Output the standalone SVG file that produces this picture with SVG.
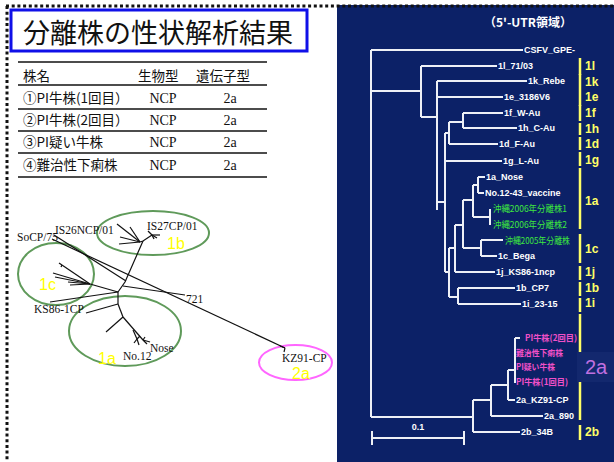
<svg xmlns="http://www.w3.org/2000/svg" width="614" height="462" viewBox="0 0 614 462">
<style>
.jp{font-family:"Noto Sans CJK JP","Liberation Sans",sans-serif;fill:#111}
.tm{font-family:"Liberation Serif",serif;fill:#111}
.tl{font-family:"Liberation Serif",serif;font-size:11.5px;fill:#111}
.cl{font-family:"Liberation Sans",sans-serif;font-size:16px;fill:#ffff00}
.ell{fill:none;stroke:#5f9a5a;stroke-width:2}
.br{stroke:#111;stroke-width:1.2;fill:none}
.wl{stroke:#eef0f6;stroke-width:2;fill:none}
.lb{font-family:"Liberation Sans",sans-serif;font-size:9px;font-weight:bold;fill:#fff}
.gr{font-family:"Noto Sans CJK JP",sans-serif;font-size:9px;fill:#3ee83e}
.pk{font-family:"Noto Sans CJK JP",sans-serif;font-size:8.5px;font-weight:bold;fill:#f050c8}
.yb{stroke:#ffff66;stroke-width:2.5}
.yl{font-family:"Liberation Sans",sans-serif;font-size:12px;font-weight:bold;fill:#ffff66}
</style>
<rect width="614" height="462" fill="#fff"/>
<!-- right navy panel -->
<rect x="337" y="5" width="277" height="457" fill="#0c2167"/>
<!-- dotted border -->
<g id="border" stroke="#111" stroke-width="3" stroke-dasharray="3 2.7" fill="none">
<line x1="6" y1="6" x2="614" y2="6"/>
<line x1="7" y1="6" x2="7" y2="462"/>
</g>
<!-- title -->
<g id="title">
<rect x="11" y="10" width="296" height="41" fill="#fff" stroke="#1010e8" stroke-width="3"/>
<text x="23" y="43" class="jp" font-size="27">分離株の性状解析結果</text>
</g>
<!-- table -->
<g id="table">
<g stroke="#111" stroke-width="1.3">
<line x1="18" y1="62" x2="267" y2="62"/>
<line x1="18" y1="85" x2="267" y2="85"/>
<line x1="18" y1="109" x2="267" y2="109"/>
<line x1="18" y1="131" x2="267" y2="131"/>
<line x1="18" y1="153" x2="267" y2="153"/>
<line x1="18" y1="177" x2="267" y2="177"/>
</g>
<g class="jp" font-size="13.5">
<text x="23" y="81">株名</text>
<text x="138" y="81">生物型</text>
<text x="196" y="81">遺伝子型</text>
<text x="23" y="103">①PI牛株(1回目）</text>
<text x="23" y="125">②PI牛株(2回目）</text>
<text x="23" y="147">③PI疑い牛株</text>
<text x="23" y="170">④難治性下痢株</text>
</g>
<g class="tm" font-size="14" text-anchor="middle">
<text x="163" y="103">NCP</text><text x="230" y="103">2a</text>
<text x="163" y="125">NCP</text><text x="230" y="125">2a</text>
<text x="163" y="147">NCP</text><text x="230" y="147">2a</text>
<text x="163" y="170">NCP</text><text x="230" y="170">2a</text>
</g>
</g>
<!-- unrooted tree -->
<g id="unrooted-tree">
<ellipse class="ell" cx="153" cy="233" rx="56" ry="22"/>
<ellipse class="ell" cx="56" cy="274" rx="38" ry="31"/>
<ellipse class="ell" cx="125" cy="331" rx="56" ry="35"/>
<ellipse cx="295.5" cy="362.5" rx="36.5" ry="17.5" fill="none" stroke="#ff66ff" stroke-width="2"/>
<g class="br">
<polyline points="143,241 125,282 118,292"/>
<line x1="140" y1="242" x2="117" y2="224"/>
<line x1="140" y1="242" x2="130" y2="227"/>
<line x1="140" y1="242" x2="120" y2="237"/>
<line x1="140" y1="242" x2="119" y2="244"/>
<polyline points="140,242 143,241 152,235"/>
<line x1="152" y1="235" x2="148" y2="231"/>
<line x1="152" y1="235" x2="160" y2="235"/>
<line x1="152" y1="235" x2="157" y2="238"/>
<line x1="152" y1="235" x2="154" y2="239"/>
<line x1="54" y1="235" x2="126" y2="281"/>
<line x1="52" y1="239" x2="285" y2="348"/>
<line x1="285" y1="348" x2="280" y2="346"/>
<line x1="285" y1="348" x2="284" y2="352"/>
<line x1="123" y1="286" x2="185" y2="295"/>
<line x1="90" y1="284" x2="118" y2="292"/>
<line x1="90" y1="284" x2="59" y2="263"/>
<line x1="62" y1="265" x2="61" y2="267"/>
<line x1="90" y1="284" x2="53" y2="273"/>
<line x1="90" y1="284" x2="55" y2="277"/>
<line x1="90" y1="284" x2="68" y2="282"/>
<line x1="90" y1="284" x2="70" y2="285"/>
<line x1="50" y1="302" x2="118" y2="292"/>
<line x1="118" y1="292" x2="118" y2="304"/>
<line x1="118" y1="304" x2="86" y2="313"/>
<line x1="118" y1="304" x2="123" y2="317"/>
<line x1="123" y1="317" x2="106" y2="332"/>
<line x1="123" y1="317" x2="143" y2="340"/>
<line x1="143" y1="340" x2="150" y2="342"/>
<line x1="143" y1="340" x2="147" y2="344"/>
<line x1="143" y1="340" x2="145" y2="337"/>
<line x1="133" y1="330" x2="137" y2="339"/>
<line x1="137" y1="339" x2="134" y2="343"/>
<line x1="137" y1="339" x2="139" y2="345"/>
<line x1="137" y1="339" x2="140" y2="336"/>
</g>
<text class="tl" x="55" y="234">IS26NCP/01</text>
<text class="tl" x="147" y="230">IS27CP/01</text>
<text class="tl" x="17" y="241">SoCP/75</text>
<text class="tl" x="186" y="303">721</text>
<text class="tl" x="34" y="313">KS86-1CP</text>
<text class="tl" x="123" y="360">No.12</text>
<text class="tl" x="150" y="352">Nose</text>
<text class="tl" x="282" y="362">KZ91-CP</text>
<text class="cl" x="167" y="249">1b</text>
<text class="cl" x="39" y="290">1c</text>
<text class="cl" x="98" y="364">1a</text>
<text class="cl" x="292" y="379" font-size="15">2a</text>
</g>
<!-- dendrogram -->
<g id="dendrogram">
<text x="528" y="27" text-anchor="middle" font-family="Noto Sans CJK JP,sans-serif" font-size="12" font-weight="bold" fill="#fff">（5'-UTR領域）</text>
<g class="wl">
<line x1="371" y1="50" x2="371" y2="417"/>
<line x1="371" y1="50" x2="523" y2="50"/>
<line x1="371" y1="91" x2="421" y2="91"/>
<line x1="371" y1="417" x2="473" y2="417"/>
<line x1="421" y1="66" x2="421" y2="117"/>
<line x1="421" y1="66" x2="497" y2="66"/>
<line x1="421" y1="117" x2="437" y2="117"/>
<line x1="437" y1="81" x2="437" y2="210"/>
<line x1="437" y1="81" x2="527" y2="81"/>
<line x1="437" y1="97" x2="503" y2="97"/>
<line x1="437" y1="202" x2="445" y2="202"/>
<line x1="445" y1="133" x2="445" y2="272"/>
<line x1="445" y1="133" x2="449" y2="133"/>
<line x1="449" y1="122" x2="449" y2="144"/>
<line x1="449" y1="122" x2="463" y2="122"/>
<line x1="449" y1="144" x2="498" y2="144"/>
<line x1="463" y1="113" x2="463" y2="128"/>
<line x1="463" y1="113" x2="503" y2="113"/>
<line x1="463" y1="128" x2="517" y2="128"/>
<line x1="445" y1="161" x2="502" y2="161"/>
<line x1="445" y1="272" x2="449" y2="272"/>
<line x1="449" y1="248" x2="449" y2="297"/>
<line x1="449" y1="248" x2="455" y2="248"/>
<line x1="449" y1="297" x2="458" y2="297"/>
<line x1="455" y1="225" x2="455" y2="272"/>
<line x1="455" y1="225" x2="463" y2="225"/>
<line x1="455" y1="272" x2="495" y2="272"/>
<line x1="463" y1="200" x2="463" y2="248"/>
<line x1="463" y1="200" x2="473" y2="200"/>
<line x1="463" y1="248" x2="481" y2="248"/>
<line x1="473" y1="185" x2="473" y2="217"/>
<line x1="473" y1="185" x2="478" y2="185"/>
<line x1="473" y1="217" x2="490" y2="217"/>
<line x1="478" y1="177" x2="478" y2="193"/>
<line x1="478" y1="177" x2="485" y2="177"/>
<line x1="478" y1="193" x2="484" y2="193"/>
<line x1="490" y1="209" x2="490" y2="225"/>
<line x1="481" y1="240" x2="481" y2="256"/>
<line x1="481" y1="240" x2="503" y2="240"/>
<line x1="481" y1="256" x2="497" y2="256"/>
<line x1="458" y1="288" x2="458" y2="304"/>
<line x1="458" y1="288" x2="515" y2="288"/>
<line x1="458" y1="304" x2="521" y2="304"/>
<line x1="473" y1="400" x2="473" y2="432"/>
<line x1="473" y1="432" x2="520" y2="432"/>
<line x1="473" y1="400" x2="491" y2="400"/>
<line x1="491" y1="385" x2="491" y2="416"/>
<line x1="491" y1="416" x2="543" y2="416"/>
<line x1="491" y1="385" x2="508" y2="385"/>
<line x1="508" y1="370" x2="508" y2="400"/>
<line x1="508" y1="400" x2="515" y2="400"/>
<line x1="508" y1="370" x2="515" y2="370"/>
<line x1="515" y1="338" x2="515" y2="383"/>
<line x1="515" y1="338" x2="520" y2="338"/>
<line x1="372" y1="438" x2="464" y2="438"/>
<line x1="372" y1="431" x2="372" y2="445"/>
<line x1="464" y1="431" x2="464" y2="445"/>
</g>
<text class="lb" x="418" y="430" text-anchor="middle">0.1</text>
<g class="lb">
<text x="524" y="53">CSFV_GPE-</text>
<text x="498" y="69">1l_71/03</text>
<text x="528" y="84">1k_Rebe</text>
<text x="504" y="100">1e_3186V6</text>
<text x="504" y="116">1f_W-Au</text>
<text x="518" y="131">1h_C-Au</text>
<text x="499" y="147">1d_F-Au</text>
<text x="503" y="164">1g_L-Au</text>
<text x="486" y="180">1a_Nose</text>
<text x="485" y="196">No.12-43_vaccine</text>
<text x="498" y="259">1c_Bega</text>
<text x="496" y="275">1j_KS86-1ncp</text>
<text x="516" y="291">1b_CP7</text>
<text x="522" y="307">1i_23-15</text>
<text x="516" y="403">2a_KZ91-CP</text>
<text x="544" y="419">2a_890</text>
<text x="521" y="435">2b_34B</text>
</g>
<text class="gr" x="493" y="212" textLength="74" lengthAdjust="spacingAndGlyphs">沖縄2006年分離株1</text>
<text class="gr" x="493" y="228" textLength="74" lengthAdjust="spacingAndGlyphs">沖縄2006年分離株2</text>
<text class="gr" x="505" y="244" textLength="65" lengthAdjust="spacingAndGlyphs">沖縄2005年分離株</text>
<text class="pk" x="525" y="341" textLength="52" lengthAdjust="spacingAndGlyphs">PI牛株(2回目)</text>
<text class="pk" x="516" y="356" textLength="47" lengthAdjust="spacingAndGlyphs">難治性下痢株</text>
<text class="pk" x="516" y="370" textLength="39" lengthAdjust="spacingAndGlyphs">PI疑い牛株</text>
<text class="pk" x="516" y="385" textLength="52" lengthAdjust="spacingAndGlyphs">PI牛株(1回目)</text>
</g>
<!-- genotype bars -->
<g id="genotypes">
<g class="yb">
<line x1="580" y1="58" x2="580" y2="75"/>
<line x1="580" y1="74" x2="580" y2="90"/>
<line x1="580" y1="90" x2="580" y2="106"/>
<line x1="580" y1="105" x2="580" y2="121"/>
<line x1="580" y1="123" x2="580" y2="135"/>
<line x1="580" y1="137" x2="580" y2="150"/>
<line x1="580" y1="152" x2="580" y2="166"/>
<line x1="580" y1="168" x2="580" y2="229"/>
<line x1="580" y1="234" x2="580" y2="263"/>
<line x1="580" y1="266" x2="580" y2="280"/>
<line x1="580" y1="282" x2="580" y2="296"/>
<line x1="580" y1="298" x2="580" y2="312"/>
<line x1="580" y1="314" x2="580" y2="420"/>
<line x1="580" y1="425" x2="580" y2="440"/>
</g>
<g class="yl">
<text x="585" y="70">1l</text>
<text x="585" y="86">1k</text>
<text x="585" y="101">1e</text>
<text x="585" y="117">1f</text>
<text x="585" y="133">1h</text>
<text x="585" y="148">1d</text>
<text x="585" y="164">1g</text>
<text x="585" y="205">1a</text>
<text x="585" y="253">1c</text>
<text x="585" y="276">1j</text>
<text x="585" y="292">1b</text>
<text x="585" y="307">1i</text>
<text x="585" y="436">2b</text>
</g>
<rect x="577" y="352" width="37" height="30" fill="#13286e"/>
<text x="585" y="374" font-family="Liberation Sans,sans-serif" font-size="20" fill="#c070e0">2a</text>
</g>
</svg>
